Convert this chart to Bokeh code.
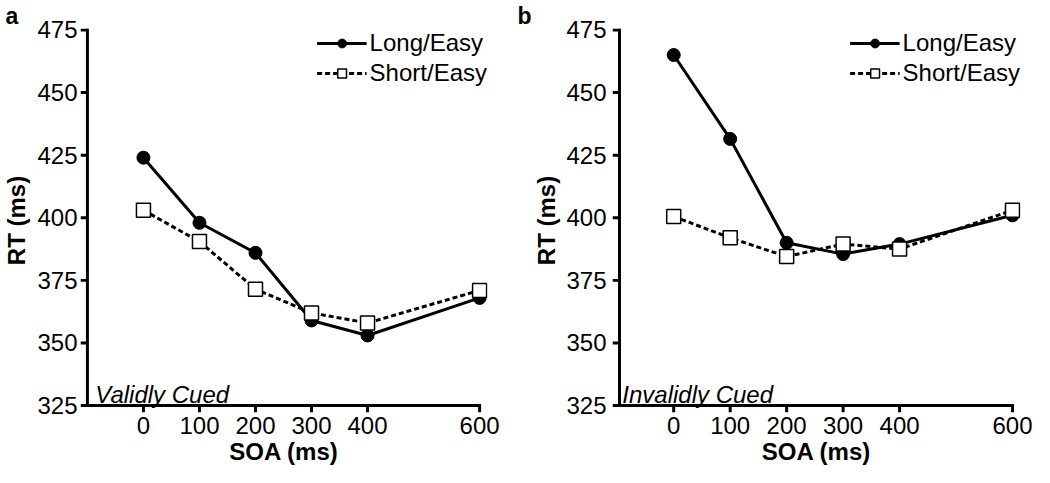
from bokeh.plotting import figure
from bokeh.layouts import row
from bokeh.models import Range1d, FixedTicker, Label, Legend
from bokeh.embed import file_html
from bokeh.resources import INLINE

# ---- data ----
soa = [0, 100, 200, 300, 400, 600]
x_ticks = [0, 100, 200, 300, 400, 600]
y_ticks = [325, 350, 375, 400, 425, 450, 475]
y_min, y_max = 325, 475
x_max = 600

valid_long = [424, 398, 386, 359, 353, 368]
valid_short = [403, 390.5, 371.5, 362, 358, 371]

invalid_long = [465, 431.5, 390, 385.5, 389.5, 401]
invalid_short = [400.5, 392, 384.5, 389.5, 387.5, 403]

series_names = ["Long/Easy", "Short/Easy"]
panel_letters = ["a", "b"]
panel_titles = ["Validly Cued", "Invalidly Cued"]

FONT = "Liberation Sans"

# pixel layout constants
SY = 2.54       # px per RT unit
TICK = 7        # tick length, px
HALF = 1.5      # half of the axis line thickness, px
PAD_R = 8       # room right of the 600 tick, px
PAD_T = 1.5     # room above the 475 tick, px


def make_panel(long_vals, short_vals, letter, title, x_start, sx, border_left,
               border_right, ylab_standoff, ytick_standoff, title_x):
    tx = TICK / sx
    ty = TICK / SY
    hx = HALF / sx
    hy = HALF / SY
    p = figure(width=517, height=467, output_backend="svg", toolbar_location=None,
               x_range=Range1d(x_start - tx, x_max + PAD_R / sx),
               y_range=Range1d(y_min - ty, y_max + PAD_T / SY),
               min_border_left=border_left, min_border_right=border_right,
               min_border_top=22, min_border_bottom=55)
    p.xgrid.grid_line_color = None
    p.ygrid.grid_line_color = None
    p.outline_line_color = None

    p.title.text = letter
    p.title.align = "left"
    p.title.offset = -border_left
    p.title.standoff = 0
    p.title.text_font = FONT
    p.title.text_font_size = "23px"
    p.title.text_font_style = "bold"
    p.title.text_color = "black"
    p.title.text_line_height = 0.9

    # axis lines and tick marks as thin filled bars, built from the tick lists
    left = [x_start - hx, x_start - hx]
    right = [x_start + hx, x_max + hx]
    bottom = [y_min - hy, y_min - hy]
    top = [y_max + hy, y_min + hy]
    for t in y_ticks:
        left.append(x_start - tx)
        right.append(x_start)
        bottom.append(t - hy)
        top.append(t + hy)
    for t in x_ticks:
        left.append(t - hx)
        right.append(t + hx)
        bottom.append(y_min - ty)
        top.append(y_min)
    p.quad(left=left, right=right, bottom=bottom, top=top,
           fill_color="black", line_color=None)

    l1 = p.line(soa, long_vals, line_color="black", line_width=3)
    s1 = p.scatter(soa, long_vals, marker="circle", size=13,
                   fill_color="black", line_color="black")
    l2 = p.line(soa, short_vals, line_color="black", line_width=3, line_dash="5 3")
    s2 = p.scatter(soa, short_vals, marker="square", size=14,
                   fill_color="white", line_color="black", line_width=1.5)

    legend = Legend(items=[(series_names[0], [l1, s1]), (series_names[1], [l2, s2])],
                    location="top_right", margin=0, padding=1, spacing=0,
                    glyph_width=50, glyph_height=22, label_height=30,
                    label_standoff=3,
                    label_text_font=FONT, label_text_font_size="24px",
                    label_text_color="black",
                    border_line_color=None, background_fill_alpha=0)
    p.add_layout(legend)

    p.axis.axis_line_color = None
    p.axis.major_tick_line_color = None
    p.axis.minor_tick_line_color = None
    p.axis.major_tick_out = 0
    p.axis.major_tick_in = 0
    p.axis.minor_tick_out = 0
    p.axis.minor_tick_in = 0
    p.axis.major_label_text_font = FONT
    p.axis.major_label_text_font_size = "24px"
    p.axis.major_label_text_color = "black"
    p.axis.major_label_text_line_height = 0.9
    p.axis.axis_label_text_font = FONT
    p.axis.axis_label_text_font_size = "24px"
    p.axis.axis_label_text_font_style = "bold"
    p.axis.axis_label_text_color = "black"
    p.axis.axis_label_text_line_height = 0.9

    p.xaxis.ticker = FixedTicker(ticks=x_ticks)
    p.yaxis.ticker = FixedTicker(ticks=y_ticks)
    p.xaxis.axis_label = "SOA (ms)"
    p.yaxis.axis_label = "RT (ms)"
    p.xaxis.major_label_standoff = 4
    p.xaxis.axis_label_standoff = 1
    p.yaxis.major_label_standoff = ytick_standoff
    p.yaxis.axis_label_standoff = ylab_standoff

    p.add_layout(Label(x=title_x, y=329.5, text=title, text_font=FONT,
                       text_font_size="24px", text_font_style="italic",
                       text_color="black", text_baseline="alphabetic"))
    return p


pa = make_panel(valid_long, valid_short, panel_letters[0], panel_titles[0],
                x_start=-100, sx=0.567, border_left=75, border_right=30,
                ylab_standoff=4, ytick_standoff=3, title_x=-86)
pb = make_panel(invalid_long, invalid_short, panel_letters[1], panel_titles[1],
                x_start=-96, sx=0.565, border_left=95, border_right=14,
                ylab_standoff=3, ytick_standoff=6, title_x=-91)

layout = row(pa, pb)
open("out.html", "w").write(file_html(layout, INLINE))
